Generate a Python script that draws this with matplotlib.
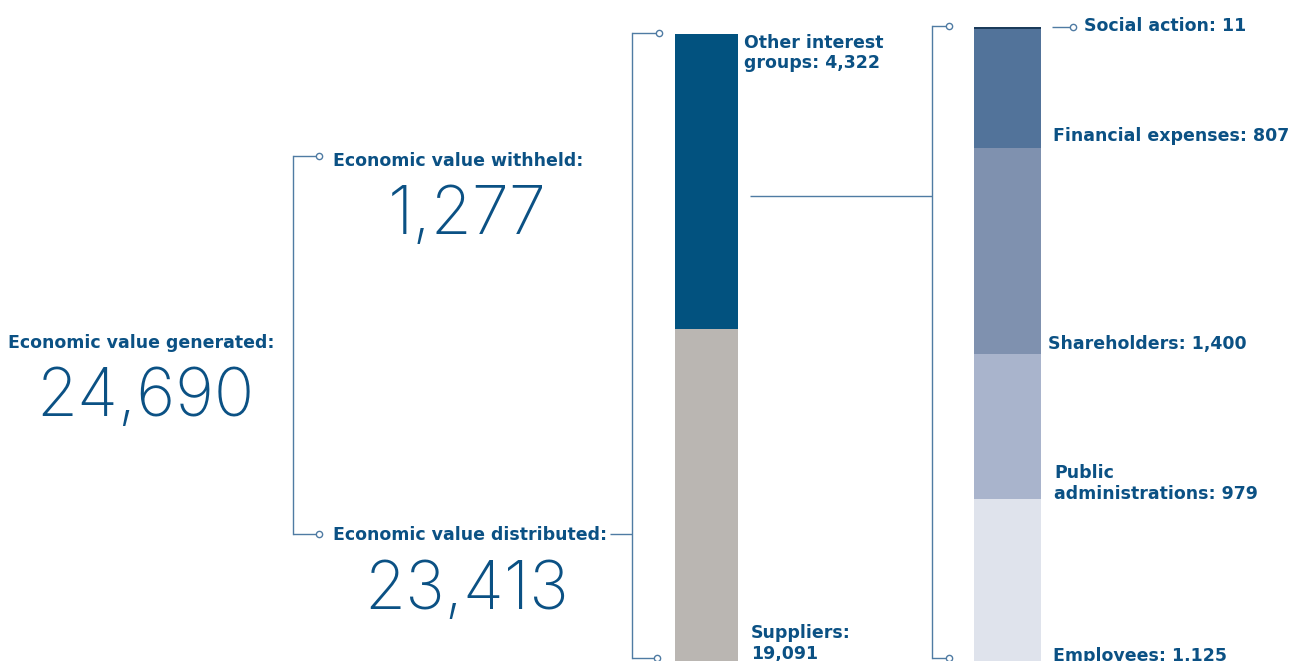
import matplotlib.pyplot as plt
import numpy as np

# economic value figures (EUR millions)
generated = 24690
withheld = 1277
distributed = 23413

dist_labels = ["Suppliers", "Other interest groups"]
dist_values = [19091, 4322]
dist_colors = ["#bab6b2", "#02527f"]

other_labels = ["Employees", "Public administrations", "Shareholders",
                "Financial expenses", "Social action"]
other_values = [1125, 979, 1400, 807, 11]
other_colors = ["#dfe3ec", "#a9b4cc", "#7f91af", "#52739a", "#1b3b5a"]

W, H = 1291, 661
TXT = "#0b5184"
LINE = "#4f7ba3"
plt.rcParams["font.family"] = ["DejaVu Sans"]

fig = plt.figure(figsize=(W / 100, H / 100), dpi=100)

# overlay in pixel coordinates for brackets and labels
ax = fig.add_axes([0, 0, 1, 1])
ax.set_xlim(0, W)
ax.set_ylim(H, 0)
ax.axis("off")


def stacked_bar(x0, width, top, px_per_unit, values, colors):
    bx = fig.add_axes([x0 / W, 0, width / W, (H - top) / H])
    total = sum(values)
    bx.set_ylim(total - (H - top) / px_per_unit, total)
    bx.set_xlim(-0.5, 0.5)
    bottoms = np.concatenate([[0], np.cumsum(values)[:-1]])
    bx.bar(0, values, bottom=bottoms, width=1.0, color=colors, linewidth=0)
    bx.axis("off")
    return bx


stacked_bar(675, 63, 34, 295 / dist_values[1], dist_values, dist_colors)
stacked_bar(974, 67, 27, 0.1475, other_values, other_colors)


def hline(x1, x2, y, dot=True):
    ax.plot([x1, x2], [y, y], color=LINE, lw=1.0, solid_capstyle="butt")
    if dot:
        ax.plot(x2 + 3, y, "o", ms=4.5, mfc="white", mec=LINE, mew=1.0)


def vline(x, y1, y2):
    ax.plot([x, x], [y1, y2], color=LINE, lw=1.0)


# brackets
vline(293, 156, 534)
hline(293, 316, 156)
hline(293, 316, 534)

vline(632, 33, 658)
hline(632, 656, 33)
hline(632, 654, 658)
hline(610, 632, 534, dot=False)

vline(932, 26, 658)
hline(932, 946, 26)
hline(932, 946, 658)
hline(750, 932, 196, dot=False)

hline(1052, 1070, 27)

bold = dict(color=TXT, fontsize=12.5, fontweight="bold", va="baseline")
big = dict(color=TXT, fontsize=48, fontweight="light", va="baseline",
           ha="center", family=["Inter", "Roboto", "DejaVu Sans"])

ax.text(141, 348, "Economic value generated:", ha="center", **bold)
ax.text(145, 416, f"{generated:,}", **big)

ax.text(333, 166, "Economic value withheld:", ha="left", **bold)
ax.text(467, 234, f"{withheld:,}", **big)

ax.text(333, 540, "Economic value distributed:", ha="left", **bold)
ax.text(467, 609, f"{distributed:,}", **big)

ax.text(744, 48, f"Other interest", ha="left", **bold)
ax.text(744, 68, f"groups: {dist_values[1]:,}", ha="left", **bold)
ax.text(751, 638, f"{dist_labels[0]}:", ha="left", **bold)
ax.text(751, 659, f"{dist_values[0]:,}", ha="left", **bold)

ax.text(1084, 31, f"{other_labels[4]}: {other_values[4]:,}", ha="left", **bold)
ax.text(1053, 141, f"{other_labels[3]}: {other_values[3]:,}", ha="left", **bold)
ax.text(1048, 349, f"{other_labels[2]}: {other_values[2]:,}", ha="left", **bold)
ax.text(1054, 478, "Public", ha="left", **bold)
ax.text(1054, 499, f"administrations: {other_values[1]:,}", ha="left", **bold)
ax.text(1053, 661, f"{other_labels[0]}: {other_values[0]:,}", ha="left", **bold)

fig.savefig("out.png", dpi=100)
